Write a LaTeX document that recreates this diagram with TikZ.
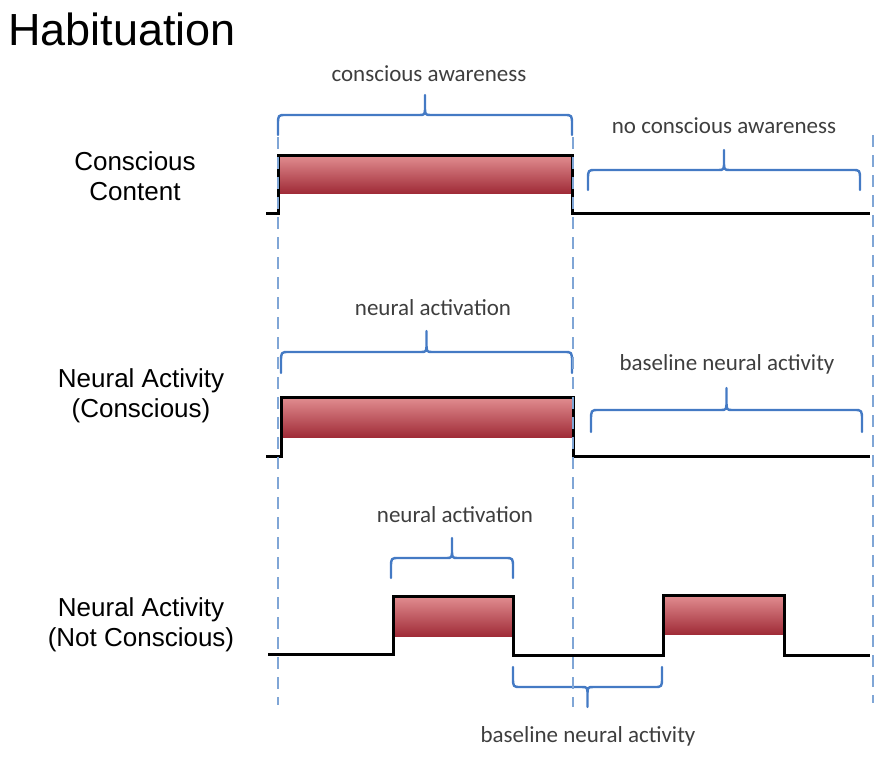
\documentclass[tikz,border=0pt]{standalone}
\usepackage{fontspec}
\setmainfont{Liberation Sans}
\newfontfamily\notefont{Carlito}
\usetikzlibrary{positioning}

\definecolor{braceblue}{RGB}{68,122,196}
\definecolor{guideblue}{RGB}{128,166,214}
\definecolor{bartop}{RGB}{226,142,145}
\definecolor{barbottom}{RGB}{160,44,56}
\definecolor{notegray}{RGB}{62,62,62}

% curly bracket: x start, x end, y of the ends, y of the arm
\newcommand{\spanbrace}[4]{%
  \pgfmathsetmacro{\bxm}{(#1+#2)/2}%
  \pgfmathsetmacro{\bye}{#3+0.5*(#4-#3)}% half way down an end
  \pgfmathsetmacro{\byt}{#4+0.45*(#4-#3)}% start of the tip
  \pgfmathsetmacro{\bytip}{2*#4-#3}% tip
  \draw[bracket] (#1,#3) -- (#1,\bye) .. controls (#1,#4) .. ({#1+8},#4)
    -- ({\bxm-6},#4) .. controls (\bxm,#4) .. (\bxm,\byt) -- (\bxm,\bytip)
    -- (\bxm,\byt) .. controls (\bxm,#4) .. ({\bxm+6},#4)
    -- ({#2-8},#4) .. controls (#2,#4) .. (#2,\bye) -- (#2,#3);
}

\begin{document}
\begin{tikzpicture}[
    x=0.5pt, y=-0.5pt,
    title/.style={anchor=base west, inner sep=0pt, font=\fontsize{22.5}{27}\selectfont},
    rowlabel/.style={align=center, inner sep=0pt, font=\fontsize{13}{15}\selectfont},
    note/.style={anchor=base, inner sep=0pt, text=notegray, font=\notefont\fontsize{11.5}{14}\selectfont},
    signal/.style={draw=black, line width=1.5pt, line join=miter},
    bar/.style={top color=bartop, bottom color=barbottom, draw=none},
    guide/.style={draw=guideblue, line width=1.3pt, dash pattern=on 6pt off 4pt},
    bracket/.style={draw=braceblue, line width=1.2pt, line join=round, line cap=round}
]
\useasboundingbox (0,0) rectangle (892,760);

% --- Titulo y etiquetas de fila ---
\node (title) [title] at (8,45) {Habituation};
\node (content) [rowlabel] at (135,176) {Conscious\\Content};
\node (conscious) [rowlabel] at (141,396) {Neural Activity\\(Conscious)};
\node (notconscious) [rowlabel] at (141,625) {Neural Activity\\(Not Conscious)};

% --- Barras de activacion ---
\fill[bar] (278,155) rectangle (572,193);
\fill[bar] (281,397) rectangle (573,437);
\fill[bar] (393,596) rectangle (513,636);
\fill[bar] (663,595) rectangle (784,634);

% --- Senales ---
\draw[signal] (266,213) -- (278,213) -- (278,155) -- (572,155) -- (572,213) -- (870,213);
\draw[signal] (266,456) -- (281,456) -- (281,397) -- (573,397) -- (573,456) -- (870,456);
\draw[signal] (268,654) -- (393,654) -- (393,596) -- (513,596) -- (513,655)
    -- (663,655) -- (663,595) -- (784,595) -- (784,655) -- (870,655);

% --- Llaves ---
\spanbrace{278}{572}{135}{115}
\spanbrace{588}{860}{190}{170}
\spanbrace{281}{572}{373}{352}
\spanbrace{591}{862}{432}{410}
\spanbrace{391}{513}{578}{558}
\spanbrace{513}{662}{667}{687}

% --- Textos de las llaves ---
\node (awareness) [note] at (429,81) {conscious awareness};
\node (noawareness) [note] at (724,133) {no conscious awareness};
\node (activation1) [note] at (433,315) {neural activation};
\node (baseline1) [note] at (727,370) {baseline neural activity};
\node (activation2) [note] at (455,522) {neural activation};
\node (baseline2) [note] at (588,742) {baseline neural activity};

% --- Lineas guia ---
\draw[guide] (278,137) -- (278,705);
\draw[guide] (573,137) -- (573,707);
\draw[guide] (873,135) -- (873,703);

\end{tikzpicture}
\end{document}
